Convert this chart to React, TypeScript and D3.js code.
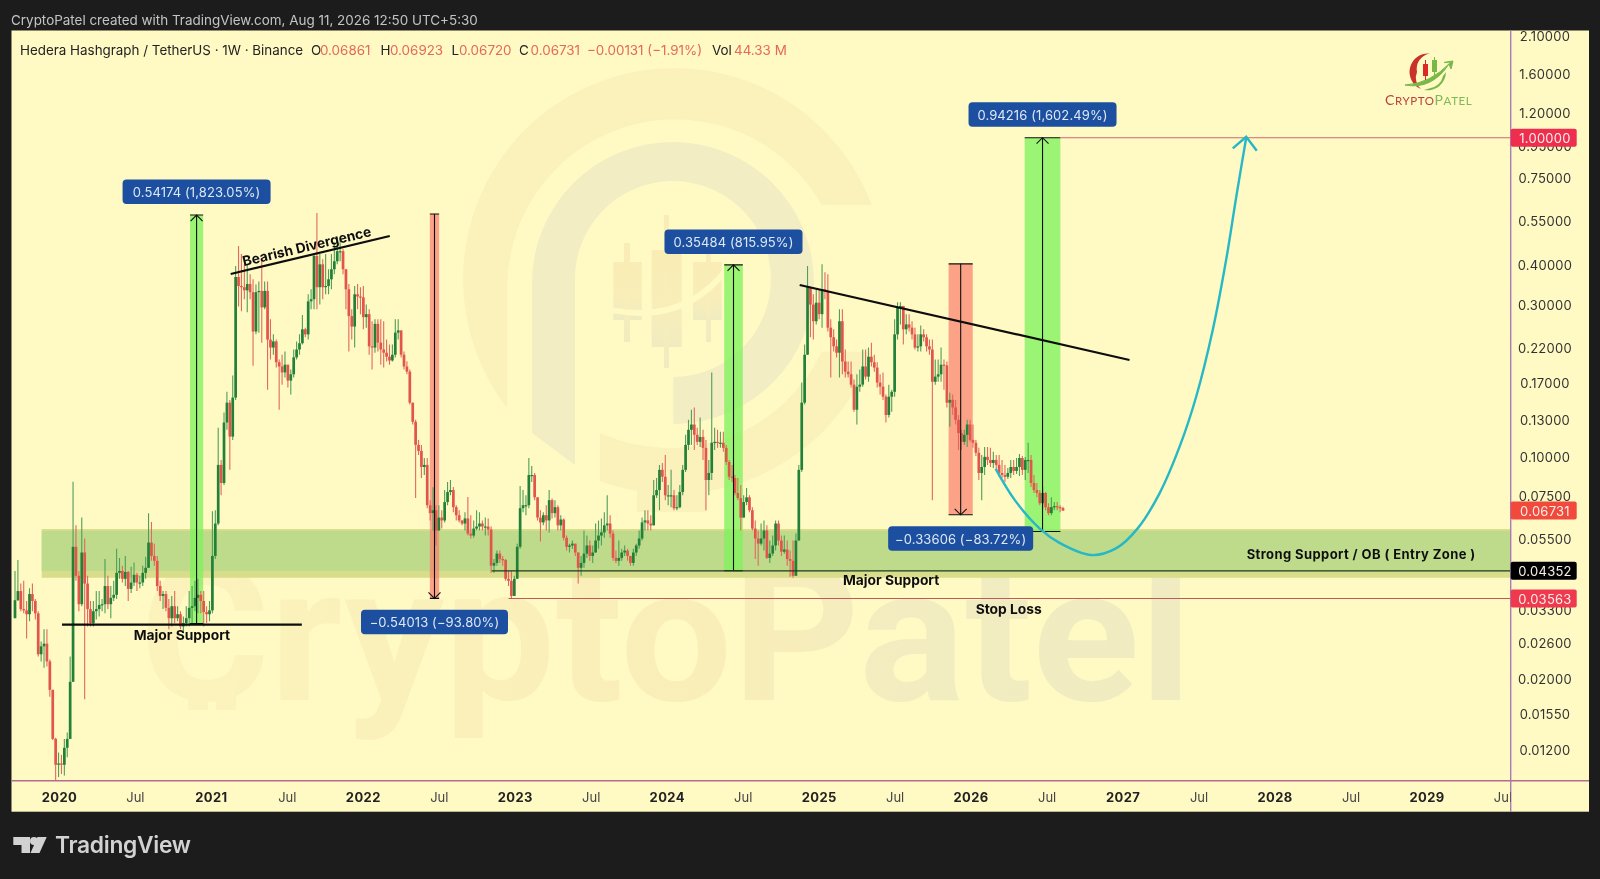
// @ts-nocheck
import * as d3 from "d3";
import React from "react";

// weekly candles, oldest first (open = previous close)
const closes = [
  .0352,.0376,.0330,.0327,.0318,.0368,.0350,.0320,.0238,.0252,
  .0257,.0226,.0184,.0129,.0107,.0108,.0107,.0121,.0129,.0195,
  .0518,.0420,.0342,.0497,.0397,.0330,.0298,.0325,.0330,.0340,
  .0342,.0390,.0342,.0358,.0366,.0429,.0435,.0411,.0432,.0382,
  .0400,.0423,.0400,.0400,.0429,.0445,.0534,.0485,.0468,.0390,
  .0363,.0368,.0333,.0309,.0337,.0309,.0318,.0291,.0298,.0309,
  .0333,.0337,.0358,.0366,.0350,.0323,.0318,.0327,.0485,.0613,
  .0937,.0822,.1273,.1470,.1150,.1525,.3650,.3420,.3390,.3315,
  .3470,.3270,.2460,.3270,.3300,.2930,.3300,.2320,.2190,.2290,
  .1970,.1910,.1830,.1935,.1725,.1805,.2040,.2160,.2260,.2500,
  .2410,.3060,.3107,.4250,.3390,.4000,.3390,.3420,.3590,.3860,
  .4090,.4400,.4400,.3860,.3340,.2750,.2550,.3220,.3170,.3150,
  .2730,.2790,.2210,.2190,.2600,.2270,.2160,.2110,.2050,.1995,
  .2080,.2440,.2480,.2080,.1910,.1840,.1470,.1280,.1083,.1037,
  .0923,.0937,.0700,.0661,.0675,.0583,.0640,.0627,.0716,.0770,
  .0781,.0690,.0651,.0627,.0613,.0636,.0570,.0562,.0591,.0600,
  .0613,.0600,.0600,.0587,.0452,.0461,.0493,.0474,.0471,.0411,
  .0405,.0363,.0411,.0518,.0685,.0700,.0700,.0871,.0871,.0741,
  .0640,.0618,.0651,.0627,.0726,.0661,.0690,.0605,.0631,.0553,
  .0518,.0523,.0530,.0497,.0445,.0461,.0493,.0523,.0485,.0497,
  .0542,.0562,.0575,.0605,.0613,.0570,.0478,.0468,.0478,.0497,
  .0504,.0485,.0461,.0497,.0523,.0550,.0618,.0627,.0613,.0605,
  .0752,.0781,.0904,.0860,.0752,.0752,.0752,.0685,.0690,.0770,
  .0904,.1083,.1208,.1255,.1165,.1107,.1147,.1060,.0840,.0884,
  .1100,.1107,.1100,.1100,.1060,.0957,.0860,.0852,.0765,.0737,
  .0640,.0716,.0741,.0675,.0591,.0550,.0530,.0550,.0583,.0478,
  .0493,.0523,.0613,.0542,.0500,.0508,.0474,.0468,.0420,.0542,
  .0904,.1470,.2080,.3390,.2990,.2650,.3030,.2790,.3340,.3290,
  .2530,.2360,.2210,.2110,.2650,.1980,.1840,.1805,.1675,.1397,
  .1650,.1675,.1910,.1775,.2050,.1970,.1895,.1700,.1650,.1535,
  .1345,.1535,.1590,.2410,.2930,.2960,.2500,.2590,.2530,.2410,
  .2190,.2210,.2410,.2360,.2210,.2160,.1710,.1775,.1805,.1935,
  .1925,.1470,.1500,.1420,.1299,.1180,.1107,.1165,.1255,.1123,
  .1100,.1023,.0884,.0923,.0993,.0971,.0950,.0971,.0937,.0884,
  .0871,.0860,.0884,.0923,.0897,.0923,.0985,.0904,.0971,.0971,
  .0822,.0781,.0765,.0710,.0765,.0690,.0661,.0690,.0695,.0690,
  .0686,.06731,
];
const highs = [
  .0435,.0471,.0397,.0405,.0350,.0384,.0397,.0355,.0325,.0261,
  .0285,.0285,.0229,.0184,.0130,.0117,.0115,.0129,.0135,.0234,
  .0830,.0605,.0435,.0640,.0550,.0420,.0350,.0350,.0376,.0376,
  .0355,.0474,.0420,.0390,.0405,.0511,.0478,.0452,.0485,.0435,
  .0448,.0462,.0429,.0420,.0452,.0482,.0660,.0620,.0530,.0485,
  .0405,.0376,.0376,.0355,.0363,.0376,.0337,.0325,.0313,.0337,
  .0376,.0390,.0405,.0411,.0376,.0376,.0337,.0350,.0670,.0675,
  .1226,.0971,.1370,.1590,.1500,.1790,.3950,.4570,.4310,.4000,
  .4000,.3720,.3590,.3460,.3530,.4100,.3530,.3530,.2690,.2410,
  .2320,.2010,.2080,.2130,.1935,.1870,.2160,.2290,.2410,.2770,
  .2530,.3220,.3340,.4310,.5800,.4310,.4150,.4310,.3860,.4310,
  .4700,.4880,.4800,.4470,.3860,.3470,.2890,.3420,.3470,.3390,
  .3420,.2990,.2890,.2650,.2690,.2690,.2690,.2650,.2320,.2240,
  .2240,.2690,.2690,.2480,.2130,.1985,.1870,.1450,.1300,.1123,
  .1083,.0985,.0985,.0726,.0797,.0700,.0700,.0675,.0781,.0828,
  .0840,.0798,.0700,.0675,.0627,.0665,.0743,.0651,.0627,.0675,
  .0665,.0627,.0640,.0636,.0600,.0474,.0504,.0504,.0485,.0474,
  .0435,.0435,.0420,.0530,.0805,.0781,.0752,.0985,.0930,.0884,
  .0741,.0675,.0665,.0700,.0781,.0735,.0726,.0700,.0651,.0636,
  .0562,.0530,.0542,.0530,.0497,.0485,.0583,.0562,.0542,.0523,
  .0613,.0627,.0636,.0665,.0752,.0651,.0583,.0504,.0542,.0511,
  .0523,.0511,.0485,.0511,.0530,.0583,.0640,.0675,.0675,.0651,
  .0840,.0852,.0937,.0950,.1007,.0810,.0904,.0781,.0752,.0810,
  .0937,.1165,.1299,.1397,.1420,.1225,.1320,.1208,.1123,.0971,
  .1830,.1225,.1208,.1190,.1190,.1083,.0971,.0937,.0871,.0852,
  .0810,.0752,.0793,.0752,.0690,.0627,.0583,.0613,.0627,.0605,
  .0542,.0562,.0627,.0627,.0562,.0562,.0542,.0504,.0542,.0570,
  .0937,.1700,.2240,.3950,.3390,.3220,.3340,.3340,.4000,.3780,
  .3720,.2690,.2500,.2320,.2890,.2890,.2160,.1980,.1980,.1737,
  .1805,.1868,.2160,.2160,.2190,.2270,.2080,.1970,.1805,.1830,
  .1560,.1675,.1615,.2690,.3040,.3040,.2930,.2790,.2790,.2650,
  .2530,.2410,.2570,.2500,.2410,.2320,.2320,.2010,.2010,.2190,
  .2010,.1980,.1580,.1560,.1500,.1345,.1208,.1208,.1299,.1299,
  .1255,.1123,.1060,.1007,.1067,.1067,.1060,.1030,.1007,.1007,
  .0971,.0937,.0917,.0971,.0971,.0985,.1014,.1000,.0993,.1100,
  .1007,.0871,.0822,.0781,.0800,.0770,.0710,.0741,.0716,.0716,
  .0700,.06923,
];
const lows = [
  .0309,.0350,.0325,.0320,.0267,.0302,.0325,.0306,.0234,.0226,
  .0216,.0218,.0175,.0128,.0094,.0098,.0100,.0099,.0113,.0129,
  .0195,.0405,.0325,.0337,.0172,.0291,.0291,.0291,.0306,.0313,
  .0325,.0320,.0330,.0309,.0350,.0355,.0411,.0400,.0390,.0350,
  .0371,.0390,.0376,.0384,.0390,.0411,.0448,.0468,.0452,.0376,
  .0350,.0330,.0325,.0285,.0291,.0298,.0302,.0285,.0277,.0291,
  .0291,.0295,.0325,.0320,.0320,.0291,.0298,.0302,.0320,.0474,
  .0605,.0752,.0810,.1208,.0904,.1123,.1500,.2950,.2850,.3107,
  .2830,.3107,.1920,.2410,.2440,.2270,.2890,.1615,.2010,.2080,
  .1895,.1397,.1675,.1765,.1640,.1560,.1765,.2010,.2080,.2240,
  .2360,.2320,.2890,.2890,.2890,.2990,.3107,.3220,.3220,.3340,
  .3720,.4000,.4090,.3720,.2890,.2130,.2320,.2190,.2890,.2790,
  .2500,.2530,.2080,.1870,.2110,.2130,.1935,.1895,.1980,.1935,
  .1980,.2040,.2320,.2040,.1870,.1805,.1450,.1255,.0737,.1007,
  .0852,.0871,.0685,.0627,.0583,.0523,.0583,.0591,.0618,.0700,
  .0752,.0665,.0627,.0618,.0605,.0583,.0562,.0550,.0553,.0583,
  .0583,.0583,.0562,.0562,.0429,.0429,.0452,.0461,.0452,.0405,
  .0390,.0355,.0376,.0411,.0511,.0665,.0651,.0685,.0828,.0726,
  .0627,.0538,.0605,.0583,.0575,.0636,.0640,.0583,.0583,.0542,
  .0504,.0497,.0511,.0485,.0397,.0420,.0445,.0478,.0468,.0461,
  .0497,.0511,.0523,.0553,.0583,.0553,.0468,.0461,.0452,.0468,
  .0485,.0468,.0452,.0452,.0485,.0511,.0542,.0583,.0583,.0583,
  .0605,.0737,.0675,.0828,.0726,.0700,.0690,.0675,.0675,.0685,
  .0752,.0890,.1044,.1083,.1044,.1083,.1067,.0971,.0675,.0752,
  .0840,.1044,.1060,.1060,.1030,.0937,.0840,.0828,.0752,.0726,
  .0583,.0640,.0700,.0665,.0583,.0474,.0452,.0523,.0504,.0474,
  .0461,.0485,.0504,.0523,.0485,.0493,.0452,.0417,.0414,.0420,
  .0542,.0890,.1450,.2080,.2360,.2320,.2590,.2690,.2530,.3107,
  .2460,.1765,.2130,.2040,.1765,.1805,.1765,.1765,.1640,.1377,
  .1255,.1590,.1650,.1737,.1710,.1910,.1840,.1640,.1560,.1500,
  .1273,.1320,.1377,.1535,.2320,.2590,.2240,.2410,.2460,.2320,
  .2160,.2130,.2130,.2290,.2130,.2080,.0726,.1675,.1710,.1710,
  .1615,.1420,.1235,.1345,.1255,.1044,.1044,.1083,.1067,.1107,
  .1060,.1000,.0840,.0726,.0871,.0937,.0923,.0917,.0904,.0860,
  .0852,.0828,.0846,.0852,.0871,.0878,.0865,.0871,.0840,.0884,
  .0798,.0765,.0741,.0700,.0685,.0675,.0651,.0651,.0675,.0675,
  .0665,.0672,
];

const priceTicks = [2.1, 1.6, 1.2, 0.95, 0.75, 0.55, 0.4, 0.3, 0.22, 0.17, 0.13, 0.1, 0.075, 0.055, 0.033, 0.026, 0.02, 0.0155, 0.012];
const yearTicks = [2020, 2021, 2022, 2023, 2024, 2025, 2026, 2027, 2028, 2029];

// measure tools: weekFrom, weekTo, price start, price end, label
const measureFrom = [60.3, 142.9, 244.3, 321.6, 347.8];
const measureTo = [64.8, 146.1, 250.7, 329.9, 360.1];
const measureStart = [0.0297, 0.5758, 0.04355, 0.4014, 0.05784];
const measureEnd = [0.5714, 0.03567, 0.3984, 0.0653, 1.0];
const measureLabels = ["0.54174 (1,823.05%)", "\u22120.54013 (\u221293.80%)", "0.35484 (815.95%)", "\u22120.33606 (\u221283.72%)", "0.94216 (1,602.49%)"];
const measureLabelW = [148, 147, 138, 145, 148];

// right-hand price flags
const flagPrices = [1.0, 0.06731, 0.04352, 0.03563];
const flagColors = ["#ef2f50", "#f2483c", "#050505", "#f03850"];

// projected path, week / price pairs
const pathWeeks = [337.8, 344.4, 353, 359.8, 370.8, 379.4, 386.8, 394.3, 401.2, 406.9, 412.6, 417.2, 420.7, 424.1];
const pathPrices = [0.091, 0.0726, 0.0591, 0.0533, 0.0488, 0.0513, 0.0593, 0.0764, 0.1071, 0.1537, 0.2491, 0.4133, 0.6535, 1.0];

const W = 1600, H = 879;
const LEFT = 11.5, AXIS_X = 1510.7, RIGHT = 1589, TOP = 30.5, AXIS_Y = 780.7, BOTTOM = 811.7;
const BG = "#fff9c4", DARK = "#1d1d1d";
const FONT = "Inter, 'Open Sans', sans-serif";

const week0 = new Date(Date.UTC(2019, 8, 16));
const dateOf = (i) => d3.utcDay.offset(week0, i * 7);
const x = d3.scaleUtc().domain([dateOf(0), dateOf(361)]).range([15, 1063]);
const xw = (w) => x(new Date(week0.getTime() + w * 7 * 864e5));
const y = d3.scaleLog().domain([0.012, 2.1]).range([748.9, 35.2]);
// the date axis labels run a touch wider than the bars
const xLabel = d3.scaleLinear().domain([2020, 2029]).range([59.4, 1427]);

const fmt = d3.format(".5f");

const Watermark = () => (
  <g>
    <defs>
      <linearGradient id="wmText" x1="0" x2="1" y1="0" y2="0">
        <stop offset="0" stopColor="#fcf2bb" />
        <stop offset="0.55" stopColor="#f9eeb8" />
        <stop offset="0.75" stopColor="#f2ecc1" />
        <stop offset="1" stopColor="#f0ebc0" />
      </linearGradient>
      <linearGradient id="wmCandle" x1="0" x2="0" y1="0" y2="1">
        <stop offset="0" stopColor="#f9ecb4" />
        <stop offset="0.55" stopColor="#f9eeb8" />
        <stop offset="1" stopColor="#f0ebc0" />
      </linearGradient>
    </defs>
    {/* outer ring */}
    <path d="M507.3 408.3A211 211 0 1 1 871.7 205L821.7 205A168 168 0 0 0 507.3 283Z" fill="#fbf1ba" />
    <path d="M821.7 351.7L872.6 351.7A211 211 0 0 1 600 481L600 433A168 168 0 0 0 821.7 351.7Z" fill="#fbf1ba" />
    <rect x={637} y={470} width={70} height={42} fill="#fbf1ba" />
    {/* P */}
    <path d="M532 433L532 283A141 141 0 1 1 673.3 424L673.3 377A98 98 0 1 0 575 283L575 465Z" fill="#f2edc2" />
    {/* little candles */}
    <rect x={613.3} y={262} width={28.4} height={58} fill="url(#wmCandle)" />
    <rect x={624} y={243} width={6} height={99} fill="url(#wmCandle)" />
    <rect x={651.7} y={250} width={30} height={97} fill="url(#wmCandle)" />
    <rect x={664} y={215} width={5} height={153} fill="url(#wmCandle)" />
    <rect x={693} y={262} width={28.7} height={58} fill="url(#wmCandle)" />
    <rect x={706} y={243} width={5} height={99} fill="url(#wmCandle)" />
    <path d="M585 303Q680 335 730 265" fill="none" stroke={BG} strokeWidth={6} />
    {/* name */}
    <text x={140} y={700} fontFamily="Roboto, sans-serif" fontWeight={700} fontSize={190} textLength={1052} lengthAdjust="spacingAndGlyphs" fill="url(#wmText)">CryptoPatel</text>
    <rect x={188} y={680} width={20} height={30} fill="#fcf2bb" />
    <rect x={216} y={680} width={20} height={30} fill="#fcf2bb" />
    <rect x={216} y={552} width={20} height={30} fill="#fcf2bb" />
  </g>
);

const Logo = () => (
  <g>
    <path d="M1430 53.5A18.5 18.5 0 0 0 1421 89A15 15 0 0 1 1417 72A15.5 15.5 0 0 1 1430 53.5Z" fill="#c8332c" />
    <path d="M1405 85Q1430 84 1451 62L1444 62.5L1453 61L1451 69L1449 64Q1432 90 1405 85Z" fill="#78b84a" stroke="#78b84a" strokeWidth={1} />
    <path d="M1446 72A18.5 18.5 0 0 1 1424 90L1429 88.5A15.5 15.5 0 0 0 1443 76Z" fill="#78b84a" />
    <rect x={1423} y={64} width={5} height={12} fill="#d92c26" />
    <rect x={1425} y={60} width={1} height={20} fill="#d92c26" />
    <rect x={1432} y={60} width={5} height={12} fill="#78b84a" />
    <rect x={1434} y={57} width={1} height={19} fill="#78b84a" />
    <text x={1385} y={104.5} fontFamily="Lato, sans-serif" fontSize={14} letterSpacing={0.6} fill="#b8423a">C<tspan fontSize={11.5}>RYPTO</tspan><tspan fontSize={14} fill="#80b958">P</tspan><tspan fontSize={11.5} fill="#80b958">ATEL</tspan></text>
  </g>
);

const Candles = () => (
  <g>
    {closes.map((c, i) => {
      const o = i === 0 ? lows[0] : closes[i - 1];
      const up = c >= o;
      const cx = x(dateOf(i));
      const yTop = y(Math.max(o, c));
      const yBot = y(Math.min(o, c));
      return (
        <g key={i}>
          <line x1={cx} x2={cx} y1={Math.min(y(highs[i]), yTop)} y2={Math.max(y(lows[i]), yBot)} stroke={up ? "#4f9f58" : "#e2695e"} strokeWidth={1.1} />
          <rect x={cx - 1.35} width={2.7} y={yTop} height={Math.max(yBot - yTop, 1.2)} fill={up ? "#218038" : "#e2544c"} />
        </g>
      );
    })}
  </g>
);

const Measures = () => (
  <g>
    {measureFrom.map((f, i) => {
      const x0 = xw(f), x1 = xw(measureTo[i]);
      const a = y(measureStart[i]), b = y(measureEnd[i]);
      const up = b < a;
      return (
        <rect key={i} x={x0} width={x1 - x0} y={Math.min(a, b)} height={Math.abs(a - b)} fill={up ? "#7ff25c" : "#f9806f"} opacity={up ? 0.78 : 0.72} />
      );
    })}
  </g>
);

const MeasureLines = () => (
  <g>
    {measureFrom.map((f, i) => {
      const x0 = xw(f), x1 = xw(measureTo[i]);
      const mid = (x0 + x1) / 2;
      const a = y(measureStart[i]), b = y(measureEnd[i]);
      const up = b < a;
      const dir = up ? 1 : -1;
      return (
        <g key={i} stroke="#111" fill="none" strokeWidth={1.1}>
          <line x1={mid} x2={mid} y1={a} y2={b} />
          <line x1={x0} x2={x1} y1={a} y2={a} />
          <line x1={x0} x2={x1} y1={b} y2={b} />
          <path d={`M${mid - 6} ${b + dir * 6}L${mid} ${b}L${mid + 6} ${b + dir * 6}`} />
        </g>
      );
    })}
  </g>
);

const MeasureBoxes = () => (
  <g>
    {measureFrom.map((f, i) => {
      const mid = (xw(f) + xw(measureTo[i])) / 2;
      const b = y(measureEnd[i]);
      const up = b < y(measureStart[i]);
      const top = up ? b - 11 - 24.5 : b + 11.5;
      return (
        <g key={i}>
          <rect x={mid - measureLabelW[i] / 2} y={top} width={measureLabelW[i]} height={24.5} rx={4} fill="#1b4f9f" />
          <text x={mid} y={top + 12.5} textAnchor="middle" dominantBaseline="central" fill="#dfe8f5" fontFamily={FONT} fontSize={13} letterSpacing={0.1}>{measureLabels[i]}</text>
        </g>
      );
    })}
  </g>
);

const pLine = d3.line().x((d) => xw(d[0])).y((d) => y(d[1]));
const curve = d3.line().x((d) => xw(d[0])).y((d) => y(d[1])).curve(d3.curveCatmullRom);

export default function App() {
  const legend = [
    ["O", "0.06861", 311, 320],
    ["H", "0.06923", 380.6, 390],
    ["L", "0.06720", 451.5, 459],
    ["C", "0.06731", 519, 530.6],
  ];
  const tipX = xw(424.1), tipY = y(1.0);
  return (
    <svg width={W} height={H} viewBox={`0 0 ${W} ${H}`} style={{ position: "absolute", left: 0, top: 0, display: "block" }}>
      <defs>
        <clipPath id="plot"><rect x={LEFT} y={TOP} width={AXIS_X - LEFT} height={AXIS_Y - TOP} /></clipPath>
        <clipPath id="timeAxis"><rect x={LEFT} y={AXIS_Y} width={AXIS_X - LEFT} height={BOTTOM - AXIS_Y} /></clipPath>
        <filter id="soft" x="0" y="0" width="100%" height="100%"><feGaussianBlur stdDeviation="0.45" /></filter>
      </defs>
      <g filter="url(#soft)">
      <rect width={W} height={H} fill={DARK} />
      <rect x={LEFT} y={TOP} width={RIGHT - LEFT} height={BOTTOM - TOP} fill={BG} />

      <text x={11} y={24.5} fill="#c4c4c4" fontFamily={FONT} fontSize={13.45}>CryptoPatel created with TradingView.com, Aug 11, 2026 12:50 UTC+5:30</text>

      <g clipPath="url(#plot)">
        <Watermark />
        {/* support zone */}
        <rect x={41.7} width={AXIS_X - 41.7} y={y(0.0589)} height={y(0.0414) - y(0.0589)} fill="#d7dd8b" />
        <rect x={41.7} width={AXIS_X - 41.7} y={y(0.0581)} height={y(0.04352) - y(0.0581)} fill="#bddb8a" />
        <Measures />
        <Candles />
        <MeasureLines />
        <line x1={xw(16.2)} x2={xw(98.8)} y1={y(0.0295)} y2={y(0.0295)} stroke="#0c0c0c" strokeWidth={2.2} />
        <line x1={xw(164.2)} x2={AXIS_X} y1={y(0.04352)} y2={y(0.04352)} stroke="#1f3a1f" strokeWidth={1.2} />
        <line x1={xw(170)} x2={AXIS_X} y1={y(0.03563)} y2={y(0.03563)} stroke="#bd5a5a" strokeWidth={1.2} />
        <line x1={xw(360.1)} x2={AXIS_X} y1={y(1)} y2={y(1)} stroke="#cc6a70" strokeWidth={1.2} />
        <path d={pLine([[74.3, 0.373], [129.1, 0.491]])} stroke="#0c0c0c" strokeWidth={2.2} fill="none" />
        <path d={pLine([[270.3, 0.3444], [383.9, 0.2002]])} stroke="#0c0c0c" strokeWidth={2.2} fill="none" />
        <path d={curve(pathWeeks.map((w, i) => [w, pathPrices[i]]))} stroke="#25b8c6" strokeWidth={2.4} fill="none" />
        <path d={`M${tipX - 13.4} ${tipY + 10.7}L${tipX} ${tipY - 1}L${tipX + 10.6} ${tipY + 13}`} stroke="#25b8c6" strokeWidth={2.4} fill="none" />

        <g fontFamily={FONT} fontWeight={700} fontSize={13.8} fill="#111" textAnchor="middle" dominantBaseline="central">
          <text x={xw(57.5)} y={y(0.0273)}>Major Support</text>
          <text x={xw(301.8)} y={y(0.0408)}>Major Support</text>
          <text x={xw(342.3)} y={y(0.0331)}>Stop Loss</text>
          <text x={xw(463.7)} y={y(0.0492)} fontSize={13} letterSpacing={0.4}>Strong Support / OB ( Entry Zone )</text>
          <text transform={`translate(${xw(100.5)},${y(0.456)}) rotate(-13.3)`}>Bearish Divergence</text>
        </g>
        <MeasureBoxes />
        <Logo />
      </g>

      {/* legend row */}
      <g fontFamily={FONT} fontSize={13.4}>
        <text x={20} y={54.5} fill="#222">Hedera Hashgraph / TetherUS · 1W · Binance</text>
        {legend.map(([k, v, kx, vx]) => (
          <g key={k}>
            <text x={kx} y={54.5} fill="#222">{k}</text>
            <text x={vx} y={54.5} fill="#e4695c">{v}</text>
          </g>
        ))}
        <text x={587} y={54.5} fill="#e4695c">{"\u22120.00131 (\u22121.91%)"}</text>
        <text x={712} y={54.5} fill="#222">Vol</text>
        <text x={734} y={54.5} fill="#e4695c">44.33 M</text>
      </g>

      {/* axes */}
      <line x1={AXIS_X} x2={AXIS_X} y1={TOP} y2={BOTTOM} stroke="#a97cb5" strokeWidth={1.4} />
      <line x1={LEFT} x2={RIGHT} y1={AXIS_Y} y2={AXIS_Y} stroke="#b46c92" strokeWidth={1.4} />

      <g fontFamily={FONT} fontSize={13} fill="#333" letterSpacing={0.25}>
        {priceTicks.map((p) => (
          <text key={p} x={1545} y={y(p) + 0.8} textAnchor="middle" dominantBaseline="central">{fmt(p)}</text>
        ))}
      </g>
      {flagPrices.map((p, i) => (
        <g key={p}>
          <rect x={AXIS_X} y={y(p) - 9} width={66} height={18} rx={2} fill={flagColors[i]} />
          <text x={1545} y={y(p) + 0.5} textAnchor="middle" dominantBaseline="central" fill="#f4f0e8" fontFamily={FONT} fontSize={13} letterSpacing={0.25}>{fmt(p)}</text>
        </g>
      ))}

      <g clipPath="url(#timeAxis)" fontFamily={FONT} fontSize={13} fill="#222" textAnchor="middle" dominantBaseline="central">
        {yearTicks.map((yr) => (
          <g key={yr}>
            <text x={xLabel(yr)} y={796.7} fontWeight={700} letterSpacing={0.4}>{yr}</text>
            <text x={xLabel(yr + 0.5)} y={796.7} fill="#444">Jul</text>
          </g>
        ))}
      </g>

      {/* brand */}
      <g fill="#d2d2d2">
        <path d="M13.3 837H30V853H21.5V845H13.3Z" />
        <circle cx={34} cy={841} r={4} />
        <path d="M37.5 837H46.7L39.5 853H30.5Z" />
        <text x={55} y={853} fontFamily="Inter, sans-serif" fontWeight={600} fontSize={22.8} letterSpacing={-0.3}>TradingView</text>
      </g>
      </g>
    </svg>
  );
}
